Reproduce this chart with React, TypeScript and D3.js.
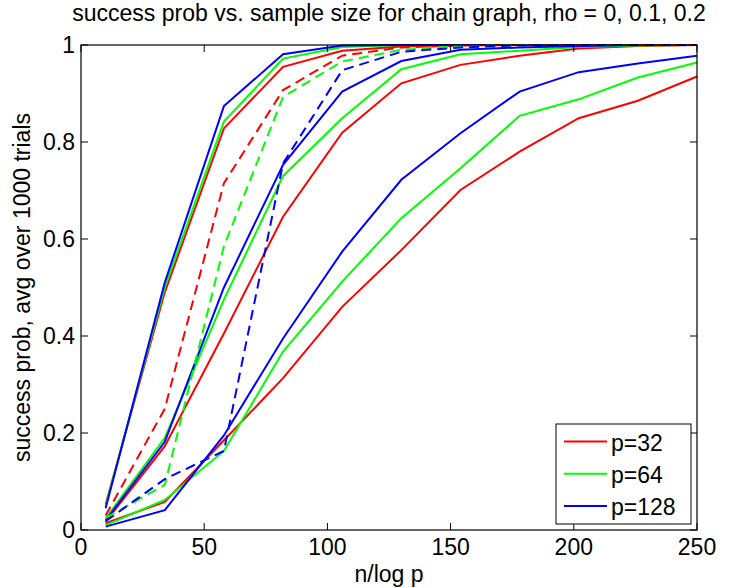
import React, { useEffect, useRef } from "react";
import * as d3 from "d3";

// n/log p sample points
const xVals = [10, 34, 58, 82, 106, 130, 154, 178, 202, 226, 250];

// steepest solid curves
const fastP32 = [0.053, 0.49, 0.828, 0.955, 0.988, 0.997, 1, 1, 1, 1, 1];
const fastP64 = [0.05, 0.5, 0.842, 0.972, 0.996, 1, 1, 1, 1, 1, 1];
const fastP128 = [0.045, 0.51, 0.874, 0.981, 0.999, 1, 1, 1, 1, 1, 1];

// dashed curves
const dashP32 = [0.03, 0.25, 0.715, 0.907, 0.978, 0.995, 0.999, 1, 1, 1, 1];
const dashP64 = [0.025, 0.093, 0.585, 0.893, 0.966, 0.99, 0.998, 1, 1, 1, 1];
const dashP128 = [0.018, 0.105, 0.163, 0.756, 0.948, 0.986, 0.995, 0.999, 1, 1, 1];

// middle solid curves
const midP32 = [0.017, 0.173, 0.405, 0.646, 0.819, 0.921, 0.959, 0.978, 0.993, 0.998, 1];
const midP64 = [0.024, 0.19, 0.475, 0.73, 0.849, 0.95, 0.981, 0.988, 0.996, 0.999, 1];
const midP128 = [0.02, 0.182, 0.5, 0.753, 0.904, 0.967, 0.99, 0.995, 0.998, 1, 1];

// slowest solid curves
const slowP32 = [0.014, 0.058, 0.185, 0.313, 0.46, 0.577, 0.701, 0.78, 0.849, 0.885, 0.935];
const slowP64 = [0.01, 0.062, 0.163, 0.368, 0.512, 0.643, 0.746, 0.854, 0.888, 0.933, 0.964];
const slowP128 = [0.007, 0.041, 0.195, 0.395, 0.574, 0.722, 0.818, 0.904, 0.944, 0.962, 0.978];

const legendLabels = ["p=32", "p=64", "p=128"];
const colors = ["#ff0000", "#00ff00", "#0000ff"];
const xTicks = [0, 50, 100, 150, 200, 250];
const yTicks = [0, 0.2, 0.4, 0.6, 0.8, 1];

const series = [
  { vals: slowP32, c: 0, dashed: false },
  { vals: slowP64, c: 1, dashed: false },
  { vals: slowP128, c: 2, dashed: false },
  { vals: midP32, c: 0, dashed: false },
  { vals: midP64, c: 1, dashed: false },
  { vals: midP128, c: 2, dashed: false },
  { vals: fastP32, c: 0, dashed: false },
  { vals: fastP64, c: 1, dashed: false },
  { vals: fastP128, c: 2, dashed: false },
  { vals: dashP32, c: 0, dashed: true },
  { vals: dashP64, c: 1, dashed: true },
  { vals: dashP128, c: 2, dashed: true },
];

const App = () => {
  const ref = useRef<SVGSVGElement>(null);

  const width = 746;
  const height = 588;
  const left = 81;
  const right = 697;
  const top = 45;
  const bottom = 530;
  const font = "'Liberation Sans', Arial, Helvetica, sans-serif";

  useEffect(() => {
    const svg = d3.select(ref.current);
    svg.selectAll("*").remove();

    const x = d3.scaleLinear().domain([0, 250]).range([left, right]);
    const y = d3.scaleLinear().domain([0, 1]).range([bottom, top]);

    const line = d3
      .line<number>()
      .x((d, i) => x(xVals[i]))
      .y((d) => y(d));

    const plot = svg.append("g");
    series.forEach((s) => {
      plot
        .append("path")
        .attr("d", line(s.vals))
        .attr("fill", "none")
        .attr("stroke", colors[s.c])
        .attr("stroke-width", 2)
        .attr("stroke-dasharray", s.dashed ? "10,6" : null);
    });

    // box
    svg
      .append("rect")
      .attr("x", left)
      .attr("y", top)
      .attr("width", right - left)
      .attr("height", bottom - top)
      .attr("fill", "none")
      .attr("stroke", "#000")
      .attr("stroke-width", 1.2);

    const tl = 7;
    const ticks = svg.append("g").attr("stroke", "#000").attr("stroke-width", 1);
    xTicks.forEach((t) => {
      ticks.append("line").attr("x1", x(t)).attr("x2", x(t)).attr("y1", bottom).attr("y2", bottom - tl);
      ticks.append("line").attr("x1", x(t)).attr("x2", x(t)).attr("y1", top).attr("y2", top + tl);
    });
    yTicks.forEach((t) => {
      ticks.append("line").attr("x1", left).attr("x2", left + tl).attr("y1", y(t)).attr("y2", y(t));
      ticks.append("line").attr("x1", right).attr("x2", right - tl).attr("y1", y(t)).attr("y2", y(t));
    });

    const labels = svg.append("g").attr("font-family", font).attr("font-size", 23).attr("fill", "#000");
    xTicks.forEach((t) => {
      labels.append("text").attr("x", x(t)).attr("y", 555).attr("text-anchor", "middle").text(String(t));
    });
    yTicks.forEach((t) => {
      labels
        .append("text")
        .attr("x", 75)
        .attr("y", y(t))
        .attr("dy", "0.36em")
        .attr("text-anchor", "end")
        .text(String(t).replace(/^0\./, "0."));
    });

    labels
      .append("text")
      .attr("x", (left + right) / 2)
      .attr("y", 21)
      .attr("text-anchor", "middle")
      .text("success prob vs. sample size for chain graph, rho = 0, 0.1, 0.2");
    labels
      .append("text")
      .attr("x", (left + right) / 2)
      .attr("y", 582)
      .attr("text-anchor", "middle")
      .text("n/log p");
    labels
      .append("text")
      .attr("transform", `translate(30,${(top + bottom) / 2}) rotate(-90)`)
      .attr("text-anchor", "middle")
      .text("success prob, avg over 1000 trials");

    // legend
    const lg = svg.append("g");
    lg.append("rect")
      .attr("x", 556)
      .attr("y", 424)
      .attr("width", 135)
      .attr("height", 100)
      .attr("fill", "#fff")
      .attr("stroke", "#000")
      .attr("stroke-width", 1);
    legendLabels.forEach((l, i) => {
      const ly = 441.5 + i * 32.2;
      lg.append("line")
        .attr("x1", 564)
        .attr("x2", 607)
        .attr("y1", ly)
        .attr("y2", ly)
        .attr("stroke", colors[i])
        .attr("stroke-width", 2);
      lg.append("text")
        .attr("x", 611)
        .attr("y", ly + 9.5)
        .attr("font-family", font)
        .attr("font-size", 23)
        .text(l);
    });
  }, []);

  return (
    <svg
      ref={ref}
      width={width}
      height={height}
      style={{ position: "absolute", left: 0, top: 0, background: "#fff" }}
    />
  );
};

export default App;
